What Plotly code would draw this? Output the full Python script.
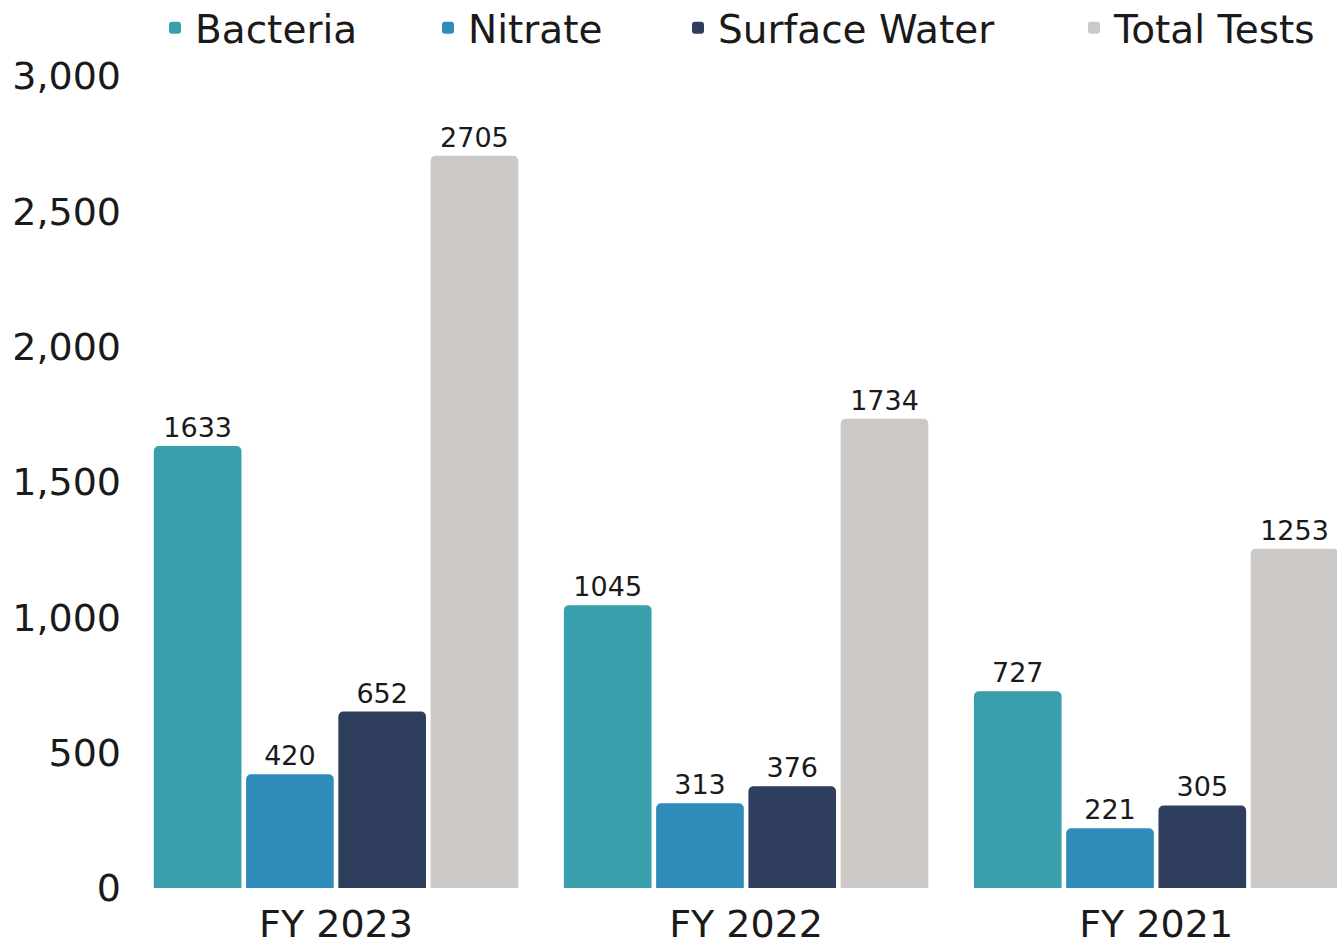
import plotly.graph_objects as go

categories = ["FY 2023", "FY 2022", "FY 2021"]
series_names = ["Bacteria", "Nitrate", "Surface Water", "Total Tests"]
bacteria = [1633, 1045, 727]
nitrate = [420, 313, 221]
surface_water = [652, 376, 305]
total_tests = [2705, 1734, 1253]
y_ticks = [0, 500, 1000, 1500, 2000, 2500, 3000]

colors = ["#3A9FAD", "#2E8BBA", "#2E3E5C", "#CBC8C5"]
FONT = "DejaVu Sans"
TXT = "#1a1a1a"

W, H = 1337, 945
ML, MR, MT, MB = 131, 0, 76, 57
plot_w = W - ML - MR
plot_h = H - MT - MB

# legend text start positions (px) for each entry
legend_text_px = [195, 468, 718, 1114]
legend_ids = ["legend", "legend2", "legend3", "legend4"]

fig = go.Figure()
for name, vals, col, lid in zip(series_names, [bacteria, nitrate, surface_water, total_tests], colors, legend_ids):
    fig.add_trace(go.Bar(
        name=name, x=categories, y=vals, marker=dict(color=col, line=dict(width=0)),
        text=[str(v) for v in vals], textposition="outside",
        textfont=dict(family=FONT, size=27, color=TXT),
        cliponaxis=False, legend=lid,
    ))

legend_y = 1 + (MT - 28) / plot_h
legends = {}
for lid, tx in zip(legend_ids, legend_text_px):
    legends[lid] = dict(orientation="h", x=(tx - 40 - ML) / plot_w, xanchor="left",
                        y=legend_y, yanchor="middle",
                        font=dict(family=FONT, size=39, color=TXT),
                        bgcolor="rgba(0,0,0,0)", borderwidth=0)

fig.update_layout(
    width=W, height=H,
    margin=dict(l=ML, r=MR, t=MT, b=MB, autoexpand=False),
    paper_bgcolor="white", plot_bgcolor="white",
    barmode="group", bargap=0.1, bargroupgap=0.05, barcornerradius=5,
    font=dict(family=FONT, color=TXT),
    showlegend=True,
    **legends,
)
fig.update_xaxes(range=[-0.5, 2.441], showgrid=False, showline=False, zeroline=False,
                 tickfont=dict(family=FONT, size=38, color=TXT), ticks="", ticklabelstandoff=10)
fig.update_yaxes(range=[0, 3000], tickvals=y_ticks, tickformat=",", showgrid=False,
                 showline=False, zeroline=False, ticks="",
                 tickfont=dict(family=FONT, size=38, color=TXT), ticklabelstandoff=9)

fig.write_html("out.html", config={"displayModeBar": False},
               post_script="document.body.style.margin='0';document.body.style.overflow='hidden';")
